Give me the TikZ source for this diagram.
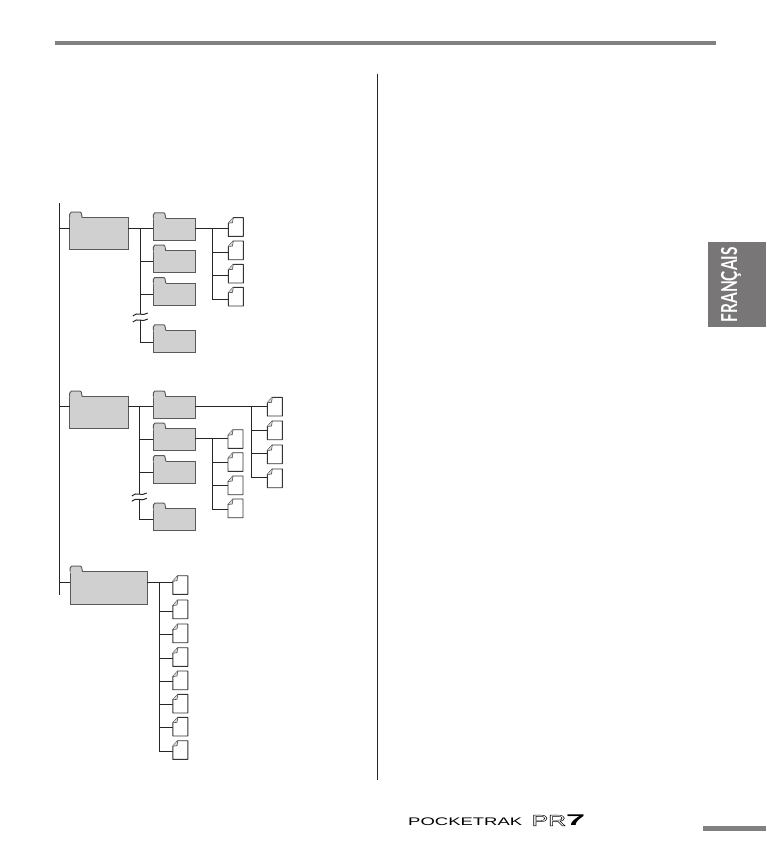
\documentclass[tikz,border=0pt]{standalone}
\usepackage{fontspec}
\setsansfont{Lato}
\usepackage{tikz}
\usetikzlibrary{calc}
\definecolor{foldergray}{HTML}{D0D0D0}
\definecolor{bargray}{HTML}{818181}
\definecolor{tabgray}{HTML}{787676}

\begin{document}
\begin{tikzpicture}[
    x=1pt, y=-1pt,
    conn/.style={line width=0.9pt, color=black!85},
    brk/.style={line width=1pt, color=black!85},
    foldersmall/.style={draw=black!65, fill=foldergray, line width=1pt, anchor=north west, inner sep=0pt, outer sep=0pt, minimum width=42pt, minimum height=22pt},
    folderbig/.style={foldersmall, minimum width=58.5pt, minimum height=31.5pt},
    folderwide/.style={foldersmall, minimum width=77pt, minimum height=32.5pt},
    tabline/.style={draw=black!65, line width=1pt, line join=round},
    filebox/.style={anchor=north west, inner sep=0pt, outer sep=0pt, minimum width=15pt, minimum height=18.7pt},
    fileline/.style={draw=black!80, fill=white, line width=0.9pt, line join=round},
    bar/.style={fill=bargray, draw=none, inner sep=0pt, outer sep=0pt, anchor=north west}
]
\useasboundingbox (0,0) rectangle (766,850);

% page furniture
\node[bar, minimum width=661pt, minimum height=4.5pt] (topbar) at (55,41) {};
\node[bar, minimum width=63pt, minimum height=5.5pt] (footbar) at (703,825.5) {};
\node[inner sep=0pt, minimum width=0pt] (divtop) at (377.7,73) {};
\node[inner sep=0pt, minimum width=0pt] (divbot) at (377.7,781) {};
\draw[line width=1pt, black!85] (divtop) -- (divbot);
\node[bar, fill=tabgray, minimum width=58pt, minimum height=85pt] (langtab) at (708,242) {};
\node[rotate=90, text=white, font=\sffamily\bfseries\fontsize{22}{24}\selectfont, inner sep=0pt] (langtxt) at (731,284.7) {\scalebox{.7}[1]{FRANÇAIS}};

% logo
\node[anchor=west, inner sep=0pt, font=\fontspec{Liberation Sans}\fontsize{11}{12}\selectfont] (logoa) at (408,821.5) {\scalebox{1.68}[1]{POCKETRAK}};
\node[anchor=west, inner sep=0pt, font=\fontspec{Liberation Sans}\fontsize{15.5}{16}\selectfont] (logob) at (531.5,820.5) {\special{pdf:code 1 Tr 0.4 w}\scalebox{1.6}[1]{PR}\special{pdf:code 0 Tr}};
\node[anchor=west, inner sep=0pt, font=\fontspec{Liberation Sans Bold}\fontsize{15.5}{16}\selectfont] (logoc) at (566,820.5) {\scalebox{2.2}[1]{7}};

% folders
\node[folderbig] (rootA) at (69.7,217.7) {};
\node[folderbig] (rootB) at (69.7,396.7) {};
\node[folderwide] (rootC) at (70,571.7) {};
\foreach \n/\y in {subAa/218.3, subAb/250.7, subAc/283, subAd/330.3, subBa/396.5, subBb/428.7, subBc/461, subBd/508.7}
    \node[foldersmall] (\n) at (153.3,\y) {};

% tabs
\foreach \n in {rootA,rootB,rootC,subAa,subAb,subAc,subAd,subBa,subBb,subBc,subBd} {
    \fill[foldergray] ($(\n.north west)+(0,1)$) -- ++(0,-4.5) -- ++(1.5,-1.5) -- ++(9,0) -- ++(2,5.5) -- ++(0,1.5) -- cycle;
    \draw[tabline] (\n.north west) -- ++(0,-3.5) -- ++(1.5,-2) -- ++(9,0) -- ++(1,0.8) -- ++(1,4.7);
}

% trunk
\coordinate (trunktop) at (59.3,203);
\coordinate (trunkend) at (59.3,595.3);
\draw[conn] (trunktop) -- (trunkend);
\foreach \n/\row in {rootA/228.3, rootB/406, rootC/582.3}
    \draw[conn] (trunktop |- 0,\row) -- (\n.west |- 0,\row);

% first group
\coordinate (brA) at (140.3,228.3);
\coordinate (brAfile) at (212.3,228.3);
\coordinate (brkAtop) at (140.3,314);
\coordinate (brkAend) at (140.3,320);
\draw[conn] (rootA.east |- brA) -- (brA);
\draw[conn] (brA) -- (brkAtop);
\draw[conn] (brkAend) |- (subAd.west |- 0,342);
\foreach \n/\row in {subAa/228.3, subAb/261.3, subAc/294.3}
    \draw[conn] (brA |- 0,\row) -- (\n.west |- 0,\row);
\draw[conn] (subAa.east |- brAfile) -- (brAfile);
\foreach \n/\top/\row in {fileAa/217.7/228.3, fileAb/241/252.3, fileAc/264.3/275.3, fileAd/287.3/299.3} {
    \node[filebox] (\n) at (228.3,\top) {};
    \draw[conn] (brAfile |- 0,\row) -- (\n.west |- 0,\row);
}
\draw[conn] (brAfile) -- (brAfile |- 0,299.3);
\draw[brk] ($(brkAtop)+(-7.5,2)$) .. controls ($(brkAtop)+(-3,-3)$) and ($(brkAtop)+(2,3)$) .. ($(brkAtop)+(7.5,-1)$);
\draw[brk] ($(brkAend)+(-7.5,2)$) .. controls ($(brkAend)+(-3,-3)$) and ($(brkAend)+(2,3)$) .. ($(brkAend)+(7.5,-1)$);

% second group
\coordinate (brB) at (139.3,406);
\coordinate (brBfile) at (212.3,438.7);
\coordinate (brBfar) at (251.3,406);
\coordinate (brkBtop) at (139.3,494);
\coordinate (brkBend) at (139.3,499.3);
\draw[conn] (rootB.east |- brB) -- (brB);
\draw[conn] (brB) -- (brkBtop);
\draw[conn] (brkBend) |- (subBd.west |- 0,519.3);
\foreach \n/\row in {subBa/406, subBb/439.3, subBc/472.3}
    \draw[conn] (brB |- 0,\row) -- (\n.west |- 0,\row);
\draw[conn] (subBb.east |- brBfile) -- (brBfile);
\draw[conn] (subBa.east |- brBfar) -- (brBfar);
\foreach \n/\top/\row in {fileBa/429.7/438.7, fileBb/452.7/462.3, fileBc/476/485.3, fileBd/499/509.3} {
    \node[filebox] (\n) at (228,\top) {};
    \draw[conn] (brBfile |- 0,\row) -- (\n.west |- 0,\row);
}
\draw[conn] (brBfile) -- (brBfile |- 0,509.3);
\foreach \n/\top/\row in {fileBe/397.3/406, fileBf/421/430.3, fileBg/445/453.3, fileBh/469/477.3} {
    \node[filebox] (\n) at (267.3,\top) {};
    \draw[conn] (brBfar |- 0,\row) -- (\n.west |- 0,\row);
}
\draw[conn] (brBfar) -- (brBfar |- 0,477.3);
\draw[brk] ($(brkBtop)+(-7.5,2)$) .. controls ($(brkBtop)+(-3,-3)$) and ($(brkBtop)+(2,3)$) .. ($(brkBtop)+(7.5,-1)$);
\draw[brk] ($(brkBend)+(-7.5,2)$) .. controls ($(brkBend)+(-3,-3)$) and ($(brkBend)+(2,3)$) .. ($(brkBend)+(7.5,-1)$);

% third group
\coordinate (brC) at (159.3,582.3);
\draw[conn] (rootC.east |- brC) -- (brC);
\foreach \n/\top/\row in {fileCa/575.7/582.3, fileCb/600/611.3, fileCc/624/634.7, fileCd/647.7/658.3, fileCe/671/681.3, fileCf/694.3/704.3, fileCg/717.3/727.3, fileCh/740.7/751.3} {
    \node[filebox] (\n) at (172.8,\top) {};
    \draw[conn] (brC |- 0,\row) -- (\n.west |- 0,\row);
}
\draw[conn] (brC) -- (brC |- 0,751.3);

% file icons
\foreach \n in {fileAa,fileAb,fileAc,fileAd,fileBa,fileBb,fileBc,fileBd,fileBe,fileBf,fileBg,fileBh,fileCa,fileCb,fileCc,fileCd,fileCe,fileCf,fileCg,fileCh} {
    \draw[fileline] ($(\n.north west)+(5,0)$) -- (\n.north east) -- (\n.south east) -- (\n.south west) -- ($(\n.north west)+(0,5.5)$) -- cycle;
    \draw[draw=black!70, fill=black!15, line width=0.6pt] ($(\n.north west)+(5,0)$) -- ($(\n.north west)+(4.2,5)$) -- ($(\n.north west)+(0,5.5)$);
}
\end{tikzpicture}
\end{document}
